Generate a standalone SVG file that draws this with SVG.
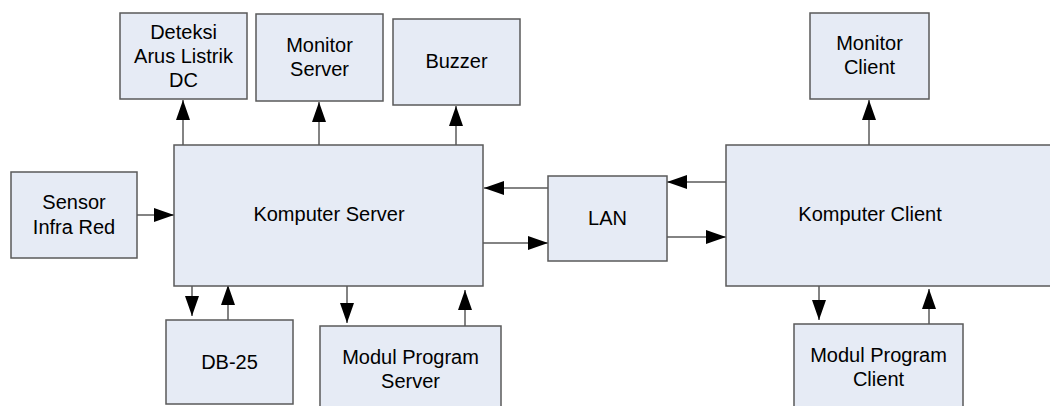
<svg xmlns="http://www.w3.org/2000/svg" width="1050" height="406" viewBox="0 0 1050 406">
<defs>
<style>
.box{fill:#e6ebf5;stroke:#5a5a5a;stroke-width:1.5}
.lbl{font-family:"Liberation Sans",Arial,sans-serif;font-size:20px;fill:#000;text-anchor:middle}
.con{stroke:#5a5a5a;stroke-width:1.5;fill:none;marker-end:url(#ah)}
</style>
<marker id="ah" markerUnits="userSpaceOnUse" markerWidth="20" markerHeight="14" refX="20" refY="7" orient="auto">
<path d="M0,0 L20,7 L0,14 Z" fill="#000"/>
</marker>
</defs>
<rect width="1050" height="406" fill="#fff"/>
<g id="connectors">
<line class="con" x1="183" y1="145" x2="183" y2="100"/>
<line class="con" x1="319" y1="145" x2="319" y2="102"/>
<line class="con" x1="456" y1="145" x2="456" y2="106"/>
<line class="con" x1="137" y1="215" x2="174" y2="215"/>
<line class="con" x1="192" y1="286" x2="192" y2="316"/>
<line class="con" x1="228" y1="320" x2="228" y2="285"/>
<line class="con" x1="347" y1="286" x2="347" y2="323"/>
<line class="con" x1="465" y1="326" x2="465" y2="290"/>
<line class="con" x1="548" y1="188" x2="484" y2="188"/>
<line class="con" x1="483" y1="243" x2="548" y2="243"/>
<line class="con" x1="726" y1="182" x2="667" y2="182"/>
<line class="con" x1="667" y1="237" x2="726" y2="237"/>
<line class="con" x1="869" y1="145" x2="869" y2="100"/>
<line class="con" x1="819" y1="286" x2="819" y2="320"/>
<line class="con" x1="929" y1="324" x2="929" y2="289"/>
</g>
<g id="deteksi"><rect class="box" x="120" y="13" width="127" height="86"/>
<text class="lbl" x="183.5" y="39">Deteksi</text><text class="lbl" x="183.5" y="63">Arus Listrik</text><text class="lbl" x="183.5" y="87">DC</text></g>
<g id="monitor-server"><rect class="box" x="256" y="14" width="127" height="87"/>
<text class="lbl" x="319.5" y="52">Monitor</text><text class="lbl" x="319.5" y="76">Server</text></g>
<g id="buzzer"><rect class="box" x="393" y="19" width="127" height="86"/>
<text class="lbl" x="456.5" y="68">Buzzer</text></g>
<g id="sensor"><rect class="box" x="11" y="172" width="126" height="86"/>
<text class="lbl" x="74" y="209">Sensor</text><text class="lbl" x="74" y="234">Infra Red</text></g>
<g id="komputer-server"><rect class="box" x="174" y="145" width="309" height="141"/>
<text class="lbl" x="329" y="221">Komputer Server</text></g>
<g id="db25"><rect class="box" x="166" y="320" width="127" height="84"/>
<text class="lbl" x="229.5" y="369">DB-25</text></g>
<g id="modul-server"><rect class="box" x="320" y="326" width="181" height="90"/>
<text class="lbl" x="410.5" y="364">Modul Program</text><text class="lbl" x="410.5" y="388">Server</text></g>
<g id="lan"><rect class="box" x="548" y="176" width="119" height="85"/>
<text class="lbl" x="607.5" y="225">LAN</text></g>
<g id="monitor-client"><rect class="box" x="810" y="13" width="119" height="86"/>
<text class="lbl" x="869.5" y="50">Monitor</text><text class="lbl" x="869.5" y="74">Client</text></g>
<g id="komputer-client"><rect class="box" x="726" y="145" width="340" height="141"/>
<text class="lbl" x="870" y="221">Komputer Client</text></g>
<g id="modul-client"><rect class="box" x="794" y="324" width="169" height="92"/>
<text class="lbl" x="878.5" y="362">Modul Program</text><text class="lbl" x="878.5" y="386">Client</text></g>
</svg>
